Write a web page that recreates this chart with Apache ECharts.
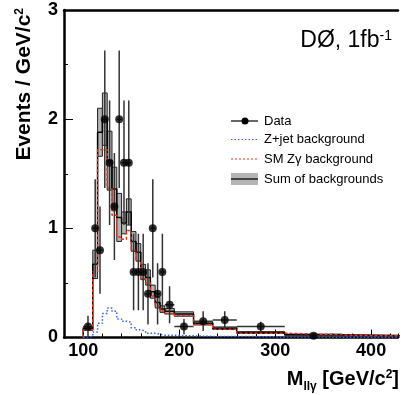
<!DOCTYPE html>
<html><head><meta charset="utf-8">
<script src="https://cdn.jsdelivr.net/npm/echarts@6/dist/echarts.min.js"></script>
<style>html,body{margin:0;padding:0;background:#fff}#c{width:401px;height:395px}</style>
</head><body><div id="c"></div>
<script>
// ---- data ----
const binEdges = [100,110,115,120,125,130,135,140,145,150,155,160,165,170,175,180,185,195,215,235,260,310,370,430];
const dataValues = [0.1,1.0,0.8,2.0,1.6,1.2,2.0,1.6,1.6,0.6,0.6,0.6,0.4,1.0,0.4,0.6,0.3,0.1,0.15,0.16,0.1,0.0167];
const dataErrors = [0.1,0.45,0.4,0.63,0.57,0.49,0.63,0.57,0.57,0.35,0.35,0.35,0.28,0.45,0.28,0.35,0.17,0.07,0.09,0.08,0.045,0.017];
const sumBkg    = [0.08,0.67,1.88,2.00,1.62,1.36,1.10,1.05,1.15,0.88,0.78,0.60,0.55,0.42,0.32,0.26,0.24,0.215,0.13,0.085,0.045,0.026,0.017];
const sumBkgErr = [0.015,0.13,0.22,0.24,0.27,0.20,0.22,0.10,0.12,0.09,0.08,0.07,0.07,0.06,0.05,0.03,0.025,0.02,0.015,0.012,0.008,0.005,0.004];
const smZgamma  = [0.07,0.60,1.72,1.72,1.37,1.12,0.92,0.90,0.98,0.80,0.70,0.54,0.50,0.38,0.29,0.24,0.22,0.20,0.12,0.075,0.04,0.023,0.015];
const zJet      = [0.01,0.05,0.13,0.22,0.27,0.24,0.17,0.15,0.14,0.09,0.07,0.06,0.04,0.04,0.03,0.02,0.02,0.015,0.01,0.01,0.005,0.003,0.002];
const xTickLabels = [100,200,300,400];
const yTickLabels = [0,1,2,3];

const FONT = 'Liberation Sans, Arial, Helvetica, sans-serif';

function steps(vals) {
  const pts = [[binEdges[0], 0]];
  for (let i = 0; i < vals.length; i++) {
    pts.push([binEdges[i], vals[i]], [binEdges[i + 1], vals[i]]);
  }
  return pts;
}
const bandData = sumBkg.map((v, i) => [binEdges[i], binEdges[i + 1], v - sumBkgErr[i], v + sumBkgErr[i]]);
const pointData = dataValues.map((v, i) => [(binEdges[i] + binEdges[i + 1]) / 2, v, dataErrors[i], binEdges[i], binEdges[i + 1]]);

const chart = echarts.init(document.getElementById('c'), null, {renderer: 'canvas'});

const option = {
  animation: false,
  backgroundColor: '#fff',
  grid: {left: 64, right: 0, top: 10, bottom: 57.5, containLabel: false},
  xAxis: [
    {
      type: 'value', min: 80, max: 428, interval: 20, position: 'bottom',
      axisLine: {show: true, onZero: false, lineStyle: {color: '#000', width: 2.5}},
      axisTick: {show: true, inside: true, length: 4, lineStyle: {color: '#000', width: 1}},
      axisLabel: {
        formatter: v => (xTickLabels.indexOf(v) >= 0 ? String(v) : ''),
        color: '#000', fontWeight: 'bold', fontSize: 18, fontFamily: FONT, margin: 5
      },
      splitLine: {show: false}
    },
    {
      type: 'value', min: 80, max: 428, position: 'bottom',
      axisLine: {show: false},
      axisTick: {show: true, inside: true, length: 8, customValues: xTickLabels, lineStyle: {color: '#000', width: 1}},
      axisLabel: {show: false},
      splitLine: {show: false}
    },
    {
      type: 'value', min: 80, max: 428, position: 'top',
      axisLine: {show: true, onZero: false, lineStyle: {color: '#000', width: 2.5}},
      axisTick: {show: false}, axisLabel: {show: false}, splitLine: {show: false}
    }
  ],
  yAxis: [{
    type: 'value', min: 0, max: 3, interval: 1,
    axisLine: {show: true, onZero: false, lineStyle: {color: '#000', width: 2.5}},
    axisTick: {show: true, inside: true, length: 9, lineStyle: {color: '#000', width: 1}},
    minorTick: {show: true, splitNumber: 2, length: 4, lineStyle: {color: '#000', width: 1}},
    axisLabel: {
      formatter: v => (yTickLabels.indexOf(v) >= 0 ? String(v) : ''),
      color: '#000', fontWeight: 'bold', fontSize: 18, fontFamily: FONT, margin: 6
    },
    splitLine: {show: false}, minorSplitLine: {show: false}
  }],
  series: [
    {
      name: 'Sum of backgrounds band', type: 'custom', clip: true, silent: true,
      encode: {x: [0, 1], y: [2, 3]},
      data: bandData,
      renderItem: (params, api) => {
        const p0 = api.coord([api.value(0), api.value(3)]);
        const p1 = api.coord([api.value(1), api.value(2)]);
        return {type: 'rect', shape: {x: p0[0], y: p0[1], width: p1[0] - p0[0], height: p1[1] - p0[1]},
          style: {fill: '#b4b4b4', stroke: '#222', lineWidth: 1}};
      },
      z: 1
    },
    {
      name: 'Sum of backgrounds', type: 'line', data: steps(sumBkg), symbol: 'none', clip: true,
      lineStyle: {color: '#000', width: 1.5}, z: 2
    },
    {
      name: 'Z+jet background', type: 'line', data: steps(zJet), symbol: 'none', clip: true,
      lineStyle: {color: '#3a5ff0', width: 1.5, type: [1.5, 2]}, z: 3
    },
    {
      name: 'SM Zγ background', type: 'line', data: steps(smZgamma), symbol: 'none', clip: true,
      lineStyle: {color: '#e8341c', width: 1.5, type: [3, 2]}, z: 4
    },
    {
      name: 'Data errors', type: 'custom', clip: true, silent: true,
      encode: {x: 0, y: 1},
      data: pointData,
      renderItem: (params, api) => {
        const xc = api.value(0), v = api.value(1), e = api.value(2), x0 = api.value(3), x1 = api.value(4);
        const top = api.coord([xc, v + e]);
        const bot = api.coord([xc, Math.max(v - e, 0)]);
        const l = api.coord([x0, v]);
        const r = api.coord([x1, v]);
        return {type: 'group', children: [
          {type: 'line', shape: {x1: top[0], y1: top[1], x2: bot[0], y2: bot[1]}, style: {stroke: '#333', lineWidth: 1.5}},
          {type: 'line', shape: {x1: l[0], y1: l[1], x2: r[0], y2: r[1]}, style: {stroke: '#333', lineWidth: 1.5}}
        ]};
      },
      z: 5
    },
    {
      name: 'Data', type: 'scatter', data: pointData.map(p => [p[0], p[1]]),
      symbol: 'circle', symbolSize: 8, itemStyle: {color: '#000'}, z: 6
    }
  ],
  graphic: [
    // title
    {type: 'text', x: 392, y: 41, z: 10, style: {
      text: '{a|DØ, 1fb}{s|-1}', align: 'right', verticalAlign: 'middle', textAlign: 'right', textVerticalAlign: 'middle',
      rich: {
        a: {fontSize: 23, fontFamily: FONT, fill: '#000', color: '#000', lineHeight: 24, verticalAlign: 'top'},
        s: {fontSize: 14, fontFamily: FONT, fill: '#000', color: '#000', lineHeight: 14, verticalAlign: 'top'}
      }}},
    // y axis title
    {type: 'text', x: 25, y: 8, rotation: Math.PI / 2, z: 10, style: {
      text: '{m|Events / GeV/c}{s|2}', align: 'right', verticalAlign: 'middle', textAlign: 'right', textVerticalAlign: 'middle',
      rich: {
        m: {fontSize: 21, fontWeight: 'bold', fontFamily: FONT, fill: '#000', color: '#000', lineHeight: 22, verticalAlign: 'top'},
        s: {fontSize: 12, fontWeight: 'bold', fontFamily: FONT, fill: '#000', color: '#000', lineHeight: 12, verticalAlign: 'top'}
      }}},
    // x axis title
    {type: 'text', x: 399, y: 380, z: 10, style: {
      text: '{m|M}{b|llγ}{m| [GeV/c}{s|2}{m|]}', align: 'right', verticalAlign: 'middle', textAlign: 'right', textVerticalAlign: 'middle',
      rich: {
        m: {fontSize: 20, fontWeight: 'bold', fontFamily: FONT, fill: '#000', color: '#000', lineHeight: 22, verticalAlign: 'top'},
        b: {fontSize: 12, fontWeight: 'bold', fontFamily: FONT, fill: '#000', color: '#000', lineHeight: 12, padding: [12, 0, 0, 0], verticalAlign: 'top'},
        s: {fontSize: 12, fontWeight: 'bold', fontFamily: FONT, fill: '#000', color: '#000', lineHeight: 12, verticalAlign: 'top'}
      }}},
    // legend
    {type: 'line', z: 10, shape: {x1: 231, y1: 121, x2: 258, y2: 121}, style: {stroke: '#000', lineWidth: 1.2}},
    {type: 'circle', z: 10, shape: {cx: 245, cy: 121, r: 3.5}, style: {fill: '#000'}},
    {type: 'text', z: 10, x: 264, y: 121, style: {text: 'Data', font: '13px ' + FONT, fill: '#000', align: 'left', verticalAlign: 'middle', textAlign: 'left', textVerticalAlign: 'middle'}},
    {type: 'line', z: 10, shape: {x1: 231, y1: 139.5, x2: 258, y2: 139.5}, style: {stroke: '#3a5ff0', lineWidth: 1.2, lineDash: [1.5, 2]}},
    {type: 'text', z: 10, x: 264, y: 139.5, style: {text: 'Z+jet background', font: '13px ' + FONT, fill: '#000', align: 'left', verticalAlign: 'middle', textAlign: 'left', textVerticalAlign: 'middle'}},
    {type: 'line', z: 10, shape: {x1: 231, y1: 159, x2: 258, y2: 159}, style: {stroke: '#e8341c', lineWidth: 1.2, lineDash: [2, 2]}},
    {type: 'text', z: 10, x: 264, y: 159, style: {text: 'SM Zγ background', font: '13px ' + FONT, fill: '#000', align: 'left', verticalAlign: 'middle', textAlign: 'left', textVerticalAlign: 'middle'}},
    {type: 'rect', z: 10, shape: {x: 231, y: 173, width: 27, height: 12}, style: {fill: '#b4b4b4'}},
    {type: 'line', z: 11, shape: {x1: 231, y1: 179, x2: 258, y2: 179}, style: {stroke: '#444', lineWidth: 2}},
    {type: 'text', z: 10, x: 264, y: 179, style: {text: 'Sum of backgrounds', font: '13px ' + FONT, fill: '#000', align: 'left', verticalAlign: 'middle', textAlign: 'left', textVerticalAlign: 'middle'}}
  ]
};
chart.setOption(option);
</script>
</body></html>
